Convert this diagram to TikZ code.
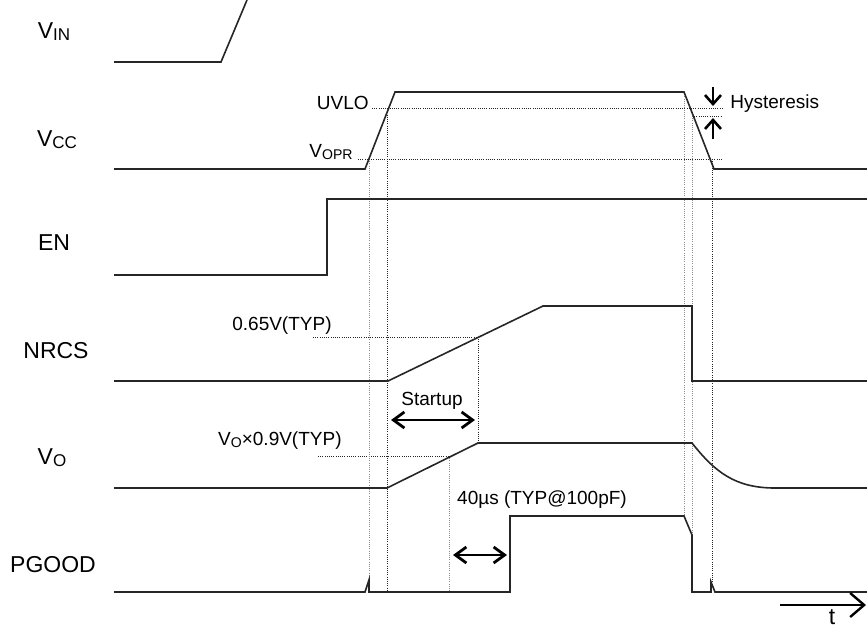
\documentclass[tikz,border=0pt]{standalone}
\usepackage{fontspec}
\setmainfont{Liberation Sans}
\usepackage{graphicx}
\usepackage{tikz}
\usetikzlibrary{arrows.meta}

\newcommand{\lowtxt}[1]{\raisebox{-1pt}{\scalebox{0.74}{#1}}}

\begin{document}
\begin{tikzpicture}[x=0.5pt,y=-0.5pt,
sig/.style={line width=0.8pt, black!85},
dots/.style={line width=0.5pt, dash pattern=on 0.5pt off 0.6pt, black!85},
greydots/.style={dots, black!45},
lbl/.style={font=\fontsize{11.5}{13}\selectfont, inner sep=0pt},
note/.style={font=\fontsize{9.5}{11}\selectfont, inner sep=0pt},
dim/.style={line width=1.4pt, {Straight Barb[length=5.5pt,width=8pt]}-{Straight Barb[length=5.5pt,width=8pt]}},
hyarrow/.style={line width=1.3pt, -{Straight Barb[length=4.5pt,width=8pt]}},
]
\useasboundingbox (0,0) rectangle (867,627);

\node[lbl] (vin) at (54,32) {V\lowtxt{IN}};
\node[lbl] (vcc) at (57,140) {V\lowtxt{CC}};
\node[lbl] (en) at (54,243) {EN};
\node[lbl] (nrcs) at (56,351) {NRCS};
\node[lbl] (vo) at (52,458) {V\lowtxt{O}};
\node[lbl] (pgood) at (53,565) {PGOOD};

\draw[dots] (372,108) -- (722,108);
\draw[dots] (692,116) -- (722,116);
\draw[dots] (358,159) -- (722,159);
\draw[dots] (313,337) -- (478,337);
\draw[dots] (318,456) -- (449,456);

\draw[greydots] (369,159) -- (369,580);
\draw[dots] (387,108) -- (387,592);
\draw[greydots] (449,456) -- (449,592);
\draw[dots] (478,337) -- (478,443);
\draw[greydots] (684,92) -- (684,516);
\draw[greydots] (692,116) -- (692,535);
\draw[dots] (712,159) -- (712,582);

\draw[sig] (114,62) -- (221,62) -- (247,0);
\draw[sig] (114,169) -- (365,169) -- (395,92) -- (684,92) -- (714,169) -- (867,169);
\draw[sig] (114,275) -- (327,275) -- (327,199) -- (867,199);
\draw[sig] (114,381) -- (388,381) -- (543,306) -- (692,306) -- (692,381) -- (867,381);
\draw[sig] (114,488) -- (387,488) -- (478,443) -- (692,443) .. controls (715,472) and (735,488) .. (775,488) -- (867,488);
\draw[sig] (114,592) -- (365,592) -- (369,580) -- (369,592) -- (510,592) -- (510,516) -- (684,516) -- (692,535) -- (692,592) -- (711,592) -- (711,582) -- (715,592) -- (867,592);

\node[note, anchor=east] (uvlo) at (369,103) {UVLO};
\node[note, anchor=east] (vopr) at (353,152) {V\lowtxt{OPR}};
\node[note, anchor=west] (hyst) at (730,104) {Hysteresis};
\node[note, anchor=east] (nrcslvl) at (332,326) {0.65V(TYP)};
\node[note, anchor=east] (volvl) at (342,441) {V\lowtxt{O}×0.9V(TYP)};
\node[note] (startup) at (432,401) {Startup};
\node[note] (pgdelay) at (542,500) {40µs (TYP@100pF)};
\node[lbl] (tlbl) at (832,617) {t};

\coordinate (su1) at (391,420);
\coordinate (su2) at (475,420);
\coordinate (pd1) at (453,555);
\coordinate (pd2) at (507,555);
\coordinate (hy1) at (713,87);
\coordinate (hy2) at (713,106);
\coordinate (hy3) at (713,139);
\coordinate (hy4) at (713,118);
\coordinate (t1) at (780,605);
\coordinate (t2) at (866,605);

\draw[dim] (su1) -- (su2);
\draw[dim] (pd1) -- (pd2);
\draw[hyarrow] (hy1) -- (hy2);
\draw[hyarrow] (hy3) -- (hy4);
\draw[line width=1.2pt, -{Straight Barb[length=7pt,width=12pt]}] (t1) -- (t2);

\end{tikzpicture}
\end{document}
